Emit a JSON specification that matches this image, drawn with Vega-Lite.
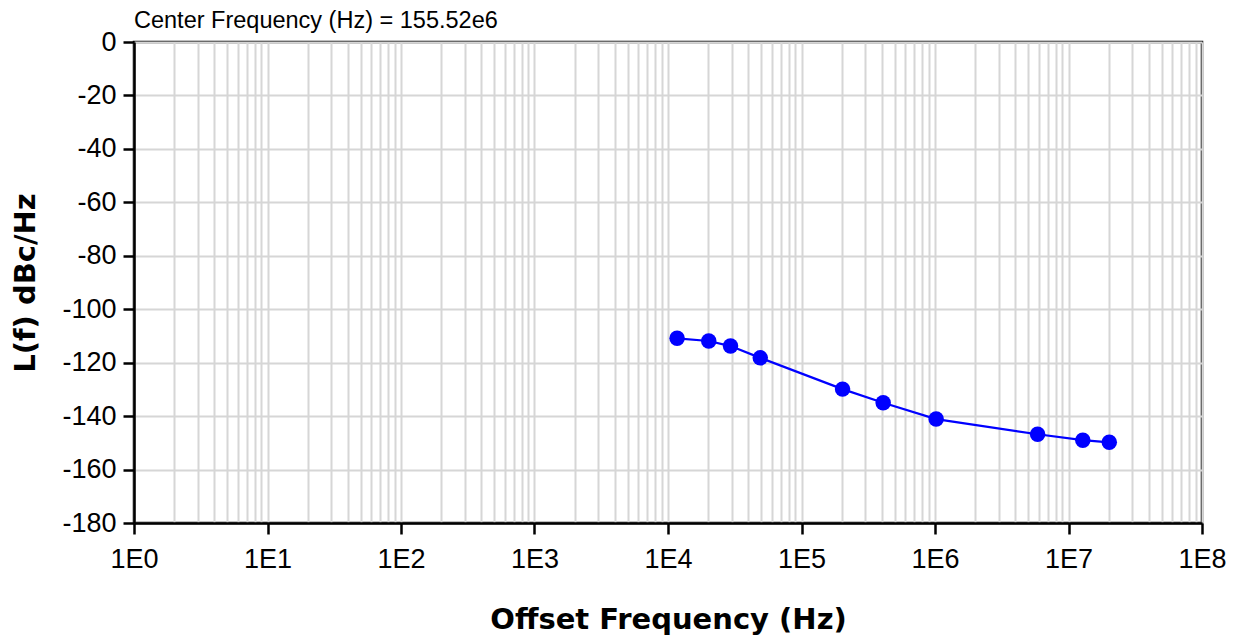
{
  "$schema": "https://vega.github.io/schema/vega-lite/v6.json",
  "autosize": "none",
  "width": 1068,
  "height": 481,
  "padding": {"left": 134, "top": 42, "right": 35, "bottom": 115},
  "background": "white",
  "title": {
    "text": "Center Frequency (Hz) = 155.52e6",
    "anchor": "start",
    "frame": "group",
    "font": "Liberation Sans",
    "fontSize": 23.5,
    "fontWeight": "normal",
    "color": "#000000",
    "offset": -4
  },
  "data": {
    "values": [
      {"offset": 11700, "L": -110.9},
      {"offset": 20200, "L": -111.9},
      {"offset": 29400, "L": -113.8},
      {"offset": 49100, "L": -118.2},
      {"offset": 203000, "L": -129.9},
      {"offset": 409000, "L": -135.0},
      {"offset": 1020000, "L": -141.1},
      {"offset": 5870000, "L": -146.8},
      {"offset": 12800000, "L": -149.0},
      {"offset": 20200000, "L": -149.8}
    ]
  },
  "config": {
    "view": {"stroke": "#000000", "strokeWidth": 2.5},
    "axis": {
      "labelFont": "Liberation Sans",
      "labelFontSize": 27,
      "labelColor": "#000000",
      "titleFont": "DejaVu Sans",
      "titleFontSize": 29,
      "titleFontWeight": "bold",
      "titleColor": "#000000",
      "gridColor": "#d6d6d6",
      "gridWidth": 2,
      "gridOpacity": 1,
      "domainColor": "#000000",
      "domainWidth": 2.5,
      "tickColor": "#000000",
      "tickWidth": 2.5,
      "tickSize": 11
    }
  },
  "encoding": {
    "x": {
      "field": "offset",
      "type": "quantitative",
      "scale": {"type": "log", "domain": [1, 100000000], "nice": false},
      "axis": {
        "title": "Offset Frequency (Hz)",
        "titlePadding": 33,
        "values": [1,2,3,4,5,6,7,8,9,10,20,30,40,50,60,70,80,90,100,200,300,400,500,600,700,800,900,1000,2000,3000,4000,5000,6000,7000,8000,9000,10000,20000,30000,40000,50000,60000,70000,80000,90000,100000,200000,300000,400000,500000,600000,700000,800000,900000,1000000,2000000,3000000,4000000,5000000,6000000,7000000,8000000,9000000,10000000,20000000,30000000,40000000,50000000,60000000,70000000,80000000,90000000,100000000],
        "labelExpr": "abs(log(datum.value)/LN10 - round(log(datum.value)/LN10)) < 1e-9 ? '1E' + round(log(datum.value)/LN10) : ''",
        "tickOpacity": {"condition": {"test": "abs(log(datum.value)/LN10 - round(log(datum.value)/LN10)) < 1e-9", "value": 1}, "value": 0},
        "labelOverlap": false,
        "labelBound": false,
        "labelFlush": false,
        "labelPadding": 12,
        "grid": true
      }
    },
    "y": {
      "field": "L",
      "type": "quantitative",
      "scale": {"domain": [-180, 0], "nice": false},
      "axis": {
        "title": "L(f) dBc/Hz",
        "titlePadding": 21,
        "values": [-180,-160,-140,-120,-100,-80,-60,-40,-20,0],
        "labelExpr": "datum.value + ''",
        "labelPadding": 7,
        "labelOverlap": false,
        "labelBound": false,
        "labelFlush": false,
        "grid": true
      }
    }
  },
  "layer": [
    {"mark": {"type": "line", "color": "#0000ff", "strokeWidth": 2.2}},
    {"mark": {"type": "point", "shape": "circle", "filled": true, "color": "#0000ff", "opacity": 1, "size": 240}}
  ]
}
